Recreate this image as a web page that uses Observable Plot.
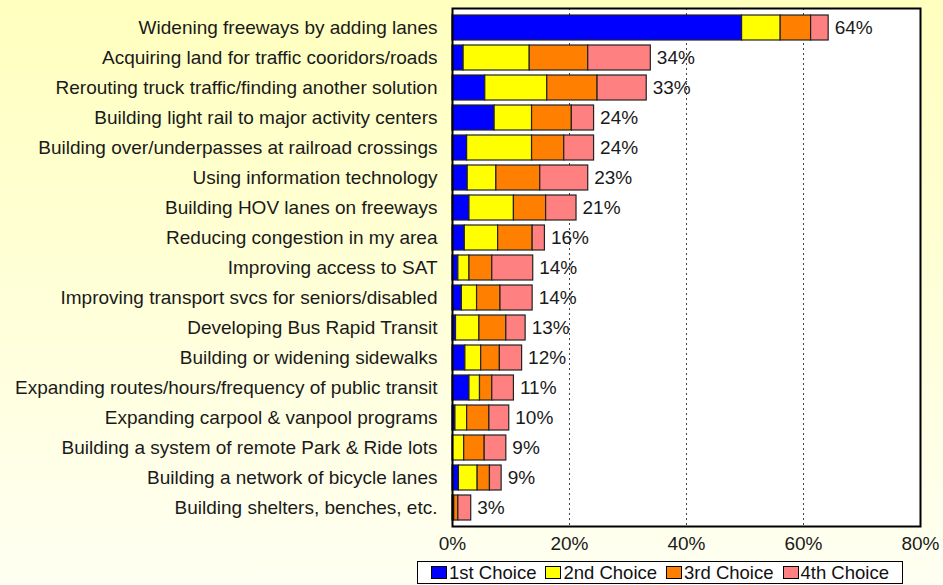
<!DOCTYPE html>
<html>
<head>
<meta charset="utf-8">
<script src="https://cdn.jsdelivr.net/npm/d3@7"></script>
<script src="https://cdn.jsdelivr.net/npm/@observablehq/plot@0.6"></script>
<style>
  html, body { margin: 0; padding: 0; }
  body {
    width: 943px; height: 585px; overflow: hidden;
    background: linear-gradient(to bottom, #ffffbe 0%, #ffffd8 50%, #fffff2 100%);
    font-family: "Liberation Sans", Arial, sans-serif;
  }
  #chart svg { display: block; background: transparent; }
  #legend {
    position: absolute; left: 417px; top: 561px; width: 484px; height: 21px;
    border: 1px solid #000; background: #fff; box-sizing: content-box;
    display: flex; align-items: center; justify-content: center; gap: 9px;
    font-size: 18.5px; color: #111; line-height: 21px; white-space: nowrap;
  }
  #legend .item { display: flex; align-items: center; }
  #legend .sw { width: 14px; height: 11px; border: 1px solid #000; margin-right: 2px; display: inline-block; }
</style>
</head>
<body>
<div id="chart"></div>
<div id="legend"></div>
<script>
const categories = [
  "Widening freeways by adding lanes",
  "Acquiring land for traffic cooridors/roads",
  "Rerouting truck traffic/finding another solution",
  "Building light rail to major activity centers",
  "Building over/underpasses at railroad crossings",
  "Using information technology",
  "Building HOV lanes on freeways",
  "Reducing congestion in my area",
  "Improving access to SAT",
  "Improving transport svcs for seniors/disabled",
  "Developing Bus Rapid Transit",
  "Building or widening sidewalks",
  "Expanding routes/hours/frequency of public transit",
  "Expanding carpool & vanpool programs",
  "Building a system of remote Park & Ride lots",
  "Building a network of bicycle lanes",
  "Building shelters, benches, etc."
];
const series = ["1st Choice", "2nd Choice", "3rd Choice", "4th Choice"];
const seriesColors = ["#0000ff", "#ffff00", "#ff8000", "#ff8080"];
const first  = [49.5, 1.9, 5.6, 7.2, 2.5, 2.6, 2.9, 2.1, 1.0, 1.6, 0.6, 2.2, 2.9, 0.5, 0.1, 1.1, 0.1];
const second = [ 6.6, 11.3, 10.6, 6.4, 11.1, 4.9, 7.6, 5.7, 1.9, 2.6, 4.0, 2.7, 1.8, 2.0, 1.9, 3.2, 0.2];
const third  = [ 5.2, 10.0, 8.6, 6.8, 5.5, 7.5, 5.5, 5.9, 3.9, 4.0, 4.6, 3.2, 2.1, 3.8, 3.5, 2.1, 0.7];
const fourth = [ 3.0, 10.7, 8.4, 3.8, 5.1, 8.2, 5.2, 2.1, 7.0, 5.5, 3.3, 3.8, 3.7, 3.4, 3.7, 2.0, 2.2];
const totalLabels = ["64%", "34%", "33%", "24%", "24%", "23%", "21%", "16%", "14%", "14%", "13%", "12%", "11%", "10%", "9%", "9%", "3%"];
const xTicks = [0, 20, 40, 60, 80];
const gridTicks = [20, 40, 60];

const values = [first, second, third, fourth];
const rows = [];
categories.forEach((c, i) => {
  series.forEach((s, j) => rows.push({category: c, choice: s, value: values[j][i]}));
});
const totals = categories.map((c, i) => ({
  category: c,
  total: first[i] + second[i] + third[i] + fourth[i],
  label: totalLabels[i]
}));

const chart = Plot.plot({
  width: 943,
  height: 556,
  marginLeft: 452,
  marginRight: 23,
  marginTop: 8,
  marginBottom: 30,
  style: {fontFamily: "'Liberation Sans', Arial, sans-serif", fontSize: "19px", color: "#1a1a1a", background: "transparent"},
  x: {domain: [0, 80], ticks: xTicks, tickFormat: d => d + "%", label: null, tickSize: 0, tickPadding: 10},
  y: {domain: categories, label: null, tickSize: 0, tickPadding: 15, padding: 0.18},
  color: {domain: series, range: seriesColors},
  marks: [
    Plot.frame({fill: "#ffffff", stroke: "none"}),
    Plot.ruleX(gridTicks, {stroke: "#444", strokeDasharray: "2,3", strokeWidth: 1}),
    Plot.barX(rows, Plot.stackX({y: "category", x: "value", fill: "choice", stroke: "#222", strokeWidth: 1.2})),
    Plot.text(totals, {x: "total", y: "category", text: "label", textAnchor: "start", dx: 6, fontSize: 19, fill: "#1a1a1a"}),
    Plot.frame({stroke: "#000", strokeWidth: 2})
  ]
});
document.getElementById("chart").appendChild(chart);

const legend = document.getElementById("legend");
series.forEach((s, i) => {
  const item = document.createElement("span");
  item.className = "item";
  item.innerHTML = `<span class="sw" style="background:${seriesColors[i]}"></span>${s}`;
  legend.appendChild(item);
});
</script>
</body>
</html>
